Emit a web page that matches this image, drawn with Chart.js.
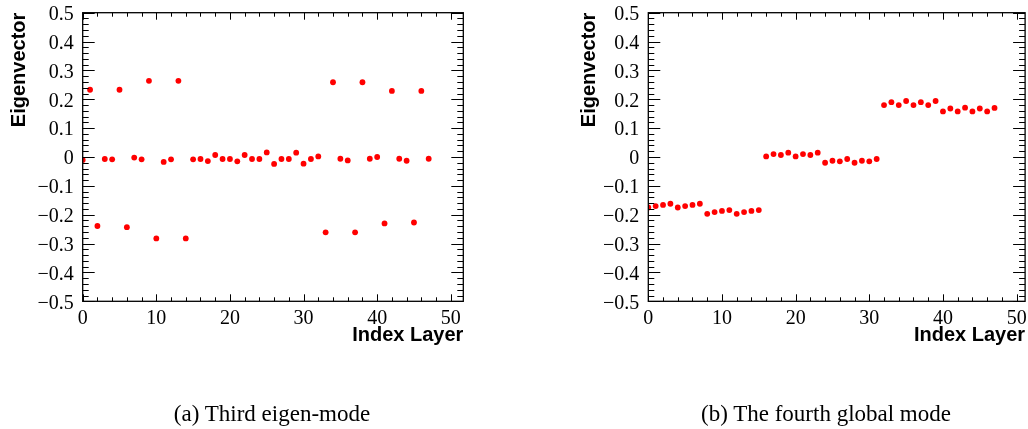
<!DOCTYPE html>
<html>
<head>
<meta charset="utf-8">
<script src="https://cdn.jsdelivr.net/npm/chart.js@4/dist/chart.umd.min.js"></script>
<style>
  html, body { margin: 0; padding: 0; background: #ffffff; }
  body { width: 1028px; height: 429px; position: relative; overflow: hidden; }
  .wrap { position: absolute; top: 0; height: 429px; }
  .cap { position: absolute; top: 401px; font-family: "Liberation Serif", "DejaVu Serif", serif; font-size: 23px; color: #000; white-space: nowrap; transform: translateX(-50%); }
</style>
</head>
<body>
<div class="wrap" style="left:0px;width:514px;"><canvas id="c1" width="514" height="429"></canvas></div>
<div class="wrap" style="left:570px;width:458px;"><canvas id="c2" width="458" height="429"></canvas></div>
<div class="cap" style="left:272px;">(a) Third eigen-mode</div>
<div class="cap" style="left:826px;">(b) The fourth global mode</div>
<script>
// ---- data ----
const layerIndex = [0,1,2,3,4,5,6,7,8,9,10,11,12,13,14,15,16,17,18,19,20,21,22,23,
                    24,25,26,27,28,29,30,31,32,33,34,35,36,37,38,39,40,41,42,43,44,45,46,47];
const thirdMode = [-0.010, 0.233, -0.239, -0.007, -0.008, 0.233, -0.243, -0.002,
                   -0.008, 0.264, -0.282, -0.017, -0.008, 0.264, -0.282, -0.008,
                   -0.007, -0.014, 0.007, -0.007, -0.007, -0.015, 0.007, -0.007,
                   -0.007, 0.016, -0.024, -0.007, -0.007, 0.015, -0.023, -0.007,
                    0.002, -0.261, 0.259, -0.006, -0.012, -0.261, 0.259, -0.006,
                    0.000, -0.230, 0.229, -0.006, -0.013, -0.227, 0.229, -0.006];
const fourthMode = [-0.175, -0.170, -0.166, -0.162, -0.175, -0.170, -0.166, -0.162,
                    -0.197, -0.191, -0.187, -0.184, -0.197, -0.191, -0.187, -0.184,
                     0.002, 0.010, 0.007, 0.015, 0.002, 0.010, 0.007, 0.015,
                    -0.020, -0.013, -0.015, -0.007, -0.020, -0.013, -0.015, -0.007,
                     0.180, 0.190, 0.180, 0.194, 0.180, 0.190, 0.180, 0.194,
                     0.158, 0.168, 0.158, 0.171, 0.158, 0.168, 0.158, 0.170];
const xTickValues = [0, 10, 20, 30, 40, 50];
const yTickValues = [-0.5, -0.4, -0.3, -0.2, -0.1, 0, 0.1, 0.2, 0.3, 0.4, 0.5];
const xTitle = "Index Layer";
const yTitle = "Eigenvector";

// ---- ROOT-like frame and inward ticks ----
const rootFrame = {
  id: 'rootFrame',
  afterDatasetsDraw(chart) {
    const {ctx, chartArea: a, scales: {x, y}} = chart;
    ctx.save();
    ctx.strokeStyle = '#000';
    ctx.lineWidth = 1;
    ctx.beginPath();
    for (let k = -25; k <= 25; k++) {
      const v = k * 0.02;
      const py = Math.round(y.getPixelForValue(v)) + 0.5;
      const major = (k % 5 === 0);
      const len = major ? 12 : 6;
      ctx.moveTo(a.left, py); ctx.lineTo(a.left + len, py);
      ctx.moveTo(a.right, py); ctx.lineTo(a.right - len, py);
    }
    for (let k = 0; k * 2 <= x.max; k++) {
      const v = k * 2;
      const px = Math.round(x.getPixelForValue(v)) + 0.5;
      const major = (k % 5 === 0);
      const len = major ? 7 : 4;
      ctx.moveTo(px, a.bottom); ctx.lineTo(px, a.bottom - len);
      ctx.moveTo(px, a.top); ctx.lineTo(px, a.top + len);
    }
    ctx.stroke();
    ctx.lineWidth = 1.3;
    ctx.strokeRect(a.left, a.top, a.right - a.left, a.bottom - a.top);
    ctx.restore();
  }
};

function fmtY(v) {
  if (Math.abs(v) < 1e-9) return '0';
  return (v < 0 ? '\u2212' : '') + Math.abs(v).toFixed(1);
}

function makeChart(id, values, xMax, yAxisWidth, padRight) {
  const pts = layerIndex.map((xi, i) => ({x: xi, y: values[i]}));
  return new Chart(document.getElementById(id), {
    type: 'scatter',
    data: { datasets: [{ data: pts, backgroundColor: '#ff0000', borderWidth: 0, pointRadius: 2.9, pointHoverRadius: 2.9 }] },
    plugins: [rootFrame],
    options: {
      responsive: false,
      animation: false,
      events: [],
      layout: { padding: { top: 12.7, bottom: 81.7, left: 0, right: padRight } },
      plugins: { legend: { display: false }, tooltip: { enabled: false } },
      scales: {
        x: {
          type: 'linear', min: 0, max: xMax,
          grid: { display: false, drawTicks: false },
          border: { display: false },
          afterBuildTicks: s => { s.ticks = xTickValues.map(v => ({value: v})); },
          afterFit: s => { s.height = 46; s.paddingLeft = 0; s.paddingRight = 0; },
          ticks: { color: '#000', padding: 5, maxRotation: 0, autoSkip: false,
                   font: { family: 'Liberation Serif', size: 20 },
                   callback: v => String(v) },
          title: { display: true, text: xTitle, align: 'end', color: '#000',
                   font: { family: 'Liberation Sans', size: 20, weight: 'bold' },
                   padding: { top: 0, bottom: 0 } }
        },
        y: {
          type: 'linear', min: -0.5, max: 0.5,
          grid: { display: false, drawTicks: false },
          border: { display: false },
          afterBuildTicks: s => { s.ticks = yTickValues.map(v => ({value: v})); },
          afterFit: s => { s.width = yAxisWidth; s.paddingTop = 0; s.paddingBottom = 0; },
          ticks: { color: '#000', padding: 9, autoSkip: false, labelOffset: 2,
                   font: { family: 'Liberation Serif', size: 20 },
                   callback: v => fmtY(v) },
          title: { display: true, text: yTitle, align: 'end', color: '#000',
                   font: { family: 'Liberation Sans', size: 20, weight: 'bold' },
                   padding: { top: 7, bottom: 0 } }
        }
      }
    }
  });
}

makeChart('c1', thirdMode, 51.7, 82.7, 514 - 463.3);
makeChart('c2', fourthMode, 51.15, 78.3, 458 - 455.7);
</script>
</body>
</html>
